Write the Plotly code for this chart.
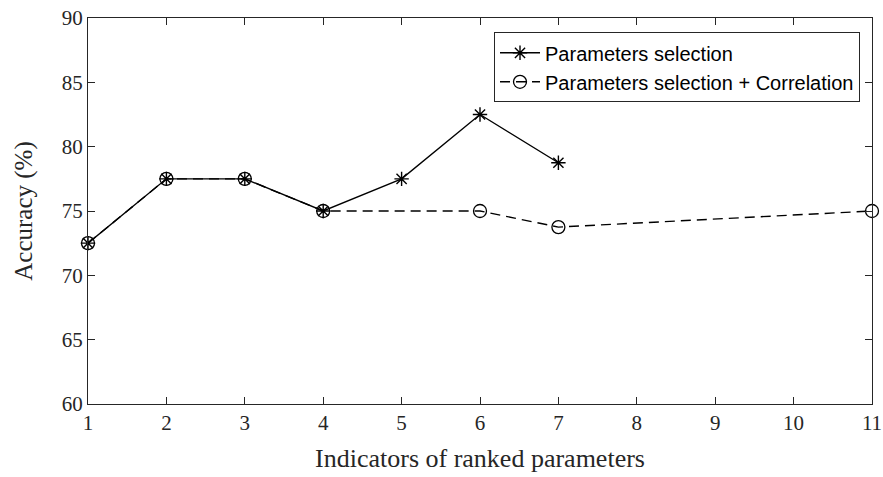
import plotly.graph_objects as go

x_sel = [1, 2, 3, 4, 5, 6, 7]
acc_sel = [72.5, 77.5, 77.5, 75, 77.5, 82.5, 78.75]
x_corr = [1, 2, 3, 4, 6, 7, 11]
acc_corr = [72.5, 77.5, 77.5, 75, 75, 73.75, 75]
x_ticks = list(range(1, 12))
y_ticks = [60, 65, 70, 75, 80, 85, 90]

fig = go.Figure()
fig.add_trace(go.Scatter(
    x=x_sel, y=acc_sel, mode="lines+markers", name="Parameters selection", cliponaxis=False,
    line=dict(color="black", width=1.4),
    marker=dict(symbol="asterisk-open", size=12, color="black", line=dict(color="black", width=1.4))))
fig.add_trace(go.Scatter(
    x=x_corr, y=acc_corr, mode="lines+markers", name="Parameters selection + Correlation",
    cliponaxis=False,
    line=dict(color="black", width=1.4, dash="10px,6px"),
    marker=dict(symbol="circle-open", size=13, color="black", line=dict(color="black", width=1.3))))

axis_common = dict(showline=True, linecolor="#262626", linewidth=1, mirror="ticks",
                   ticks="inside", ticklen=7, tickcolor="#262626", showgrid=False, zeroline=False,
                   tickfont=dict(family="Liberation Serif", size=21, color="#262626"))
fig.update_xaxes(range=[1, 11], tickvals=x_ticks, **axis_common,
                 title=dict(text="Indicators of ranked parameters", standoff=14,
                            font=dict(family="Liberation Serif", size=26, color="#262626")))
fig.update_yaxes(range=[60, 90], tickvals=y_ticks, **axis_common,
                 title=dict(text="Accuracy (%)", standoff=22,
                            font=dict(family="Liberation Serif", size=25, color="#262626")))
fig.update_layout(
    width=883, height=477, plot_bgcolor="white", paper_bgcolor="white",
    margin=dict(l=88, r=11, t=18, b=73, autoexpand=False),
    legend=dict(x=0.9847, y=0.963, xanchor="right", yanchor="top", bgcolor="white",
                bordercolor="#262626", borderwidth=1, tracegroupgap=0, itemwidth=40,
                font=dict(family="Liberation Sans", size=20, color="black")),
)
fig.write_html("out.html", config={"displayModeBar": False},
               post_script="document.body.style.margin='0';document.body.style.overflow='hidden';")
